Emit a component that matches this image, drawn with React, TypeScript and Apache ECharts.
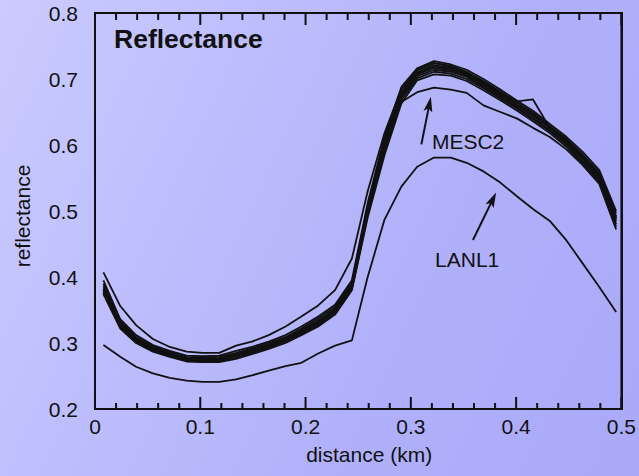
import { useEffect, useRef } from "react";
import * as echarts from "echarts";

// Sample positions along the transect (km)
const distance = [
  0.008, 0.024, 0.039, 0.055, 0.071, 0.087, 0.102, 0.118, 0.134, 0.149, 0.165,
  0.181, 0.196, 0.212, 0.228, 0.244, 0.259, 0.275, 0.291, 0.306, 0.322, 0.338,
  0.353, 0.369, 0.385, 0.401, 0.416, 0.432, 0.448, 0.463, 0.479, 0.495,
];

// Reflectance profiles, one per instrument
const lanl1 = [
  0.297, 0.279, 0.264, 0.254, 0.247, 0.243, 0.241, 0.241, 0.245, 0.251, 0.258,
  0.265, 0.27, 0.284, 0.296, 0.304, 0.4, 0.487, 0.537, 0.567, 0.581, 0.581,
  0.573, 0.56, 0.543, 0.522, 0.503, 0.485, 0.455, 0.421, 0.385, 0.347,
];
const mesc2 = [
  0.38, 0.33, 0.305, 0.29, 0.281, 0.276, 0.275, 0.276, 0.281, 0.288, 0.297,
  0.307, 0.319, 0.333, 0.351, 0.383, 0.5, 0.6, 0.665, 0.68, 0.687, 0.684,
  0.679, 0.66, 0.65, 0.64, 0.626, 0.612, 0.593, 0.57, 0.541, 0.472,
];
const siteA = [
  0.407, 0.356, 0.327, 0.306, 0.294, 0.287, 0.285, 0.285, 0.296, 0.302, 0.312,
  0.325, 0.34, 0.357, 0.38, 0.428, 0.53, 0.618, 0.685, 0.714, 0.724, 0.719,
  0.71, 0.695, 0.68, 0.664, 0.648, 0.628, 0.607, 0.583, 0.553, 0.49,
];
const siteB = [
  0.395, 0.336, 0.312, 0.297, 0.288, 0.281, 0.28, 0.281, 0.288, 0.294, 0.302,
  0.312, 0.325, 0.34, 0.358, 0.395, 0.512, 0.612, 0.688, 0.716, 0.727, 0.722,
  0.714, 0.7, 0.684, 0.667, 0.652, 0.632, 0.612, 0.59, 0.562, 0.5,
];
const siteC = [
  0.39, 0.333, 0.309, 0.295, 0.286, 0.279, 0.278, 0.279, 0.285, 0.292, 0.3,
  0.309, 0.322, 0.337, 0.355, 0.392, 0.507, 0.606, 0.684, 0.713, 0.724, 0.72,
  0.711, 0.697, 0.681, 0.664, 0.649, 0.629, 0.609, 0.586, 0.558, 0.496,
];
const siteD = [
  0.386, 0.33, 0.307, 0.293, 0.284, 0.277, 0.276, 0.277, 0.283, 0.29, 0.298,
  0.307, 0.32, 0.334, 0.352, 0.389, 0.503, 0.601, 0.68, 0.71, 0.721, 0.717,
  0.709, 0.694, 0.678, 0.661, 0.646, 0.627, 0.607, 0.583, 0.555, 0.492,
];
const siteE = [
  0.383, 0.328, 0.305, 0.292, 0.283, 0.276, 0.275, 0.276, 0.282, 0.289, 0.297,
  0.306, 0.318, 0.332, 0.35, 0.387, 0.5, 0.598, 0.677, 0.708, 0.719, 0.715,
  0.707, 0.692, 0.676, 0.659, 0.644, 0.626, 0.605, 0.581, 0.553, 0.489,
];
const siteF = [
  0.38, 0.327, 0.304, 0.291, 0.282, 0.275, 0.274, 0.275, 0.281, 0.288, 0.296,
  0.305, 0.317, 0.331, 0.349, 0.386, 0.498, 0.595, 0.675, 0.706, 0.717, 0.713,
  0.705, 0.69, 0.675, 0.666, 0.669, 0.626, 0.604, 0.58, 0.551, 0.487,
];
const siteG = [
  0.378, 0.325, 0.303, 0.29, 0.281, 0.274, 0.273, 0.274, 0.28, 0.287, 0.294,
  0.303, 0.316, 0.329, 0.347, 0.384, 0.496, 0.592, 0.672, 0.704, 0.714, 0.711,
  0.703, 0.688, 0.673, 0.657, 0.641, 0.623, 0.602, 0.578, 0.549, 0.484,
];
const siteH = [
  0.376, 0.324, 0.301, 0.288, 0.28, 0.273, 0.272, 0.272, 0.278, 0.285, 0.293,
  0.302, 0.314, 0.327, 0.345, 0.382, 0.493, 0.589, 0.668, 0.701, 0.711, 0.708,
  0.7, 0.686, 0.671, 0.655, 0.639, 0.621, 0.6, 0.575, 0.546, 0.48,
];
const siteI = [
  0.374, 0.322, 0.3, 0.287, 0.279, 0.272, 0.271, 0.271, 0.276, 0.283, 0.291,
  0.3, 0.312, 0.325, 0.343, 0.38, 0.49, 0.585, 0.663, 0.698, 0.707, 0.705,
  0.697, 0.683, 0.668, 0.652, 0.636, 0.618, 0.597, 0.572, 0.543, 0.476,
];

const profiles = [siteA, siteB, siteC, siteD, siteE, siteF, siteG, siteH, siteI, mesc2, lanl1];

// Axis tick values
const xMajorTicks = [0, 0.1, 0.2, 0.3, 0.4, 0.5];
const yMajorTicks = [0.2, 0.3, 0.4, 0.5, 0.6, 0.7, 0.8];
const MINOR_SPLIT = 5;

// Callouts: label, label anchor [x, y], arrow tail and tip (data units)
const callouts = [
  { text: "MESC2", at: [0.32, 0.606], tail: [0.31, 0.601], tip: [0.319, 0.673] },
  { text: "LANL1", at: [0.323, 0.427], tail: [0.359, 0.456], tip: [0.381, 0.528] },
];

const FONT = "'Liberation Sans', Arial, Helvetica, sans-serif";
const INK = "#111";

// All tick values (major and minor), flagged and sorted
const tickList = (majors: number[]) => {
  const out: { v: number; major: boolean }[] = majors.map((v) => ({ v, major: true }));
  for (let i = 0; i < majors.length - 1; i++) {
    const step = (majors[i + 1] - majors[i]) / MINOR_SPLIT;
    for (let k = 1; k < MINOR_SPLIT; k++) out.push({ v: majors[i] + step * k, major: false });
  }
  return out.sort((a, b) => a.v - b.v);
};

export default function App() {
  const ref = useRef<HTMLDivElement>(null);

  useEffect(() => {
    const chart = echarts.init(ref.current!, null, { renderer: "svg" });

    const axisLine = { show: true, onZero: false, lineStyle: { color: INK, width: 2 } };
    const xMin = xMajorTicks[0];
    const xMax = xMajorTicks[xMajorTicks.length - 1];
    const yMin = yMajorTicks[0];
    const yMax = yMajorTicks[yMajorTicks.length - 1];

    const xAxisFor = (position: "bottom" | "top", extra: any) => ({
      type: "value",
      position,
      min: xMin,
      max: xMax,
      interval: 0.1,
      axisLine,
      axisTick: { show: false },
      splitLine: { show: false },
      ...extra,
    });
    const yAxisFor = (position: "left" | "right", extra: any) => ({
      type: "value",
      position,
      min: yMin,
      max: yMax,
      interval: 0.1,
      axisLine,
      axisTick: { show: false },
      splitLine: { show: false },
      ...extra,
    });

    const profileSeries = profiles.map((vals) => ({
      type: "line",
      xAxisIndex: 0,
      yAxisIndex: 0,
      data: distance.map((d, i) => [d, vals[i]]),
      symbol: "none",
      silent: true,
      lineStyle: { color: INK, width: 1.8 },
    }));

    chart.setOption({
      animation: false,
      backgroundColor: "transparent",
      textStyle: { fontFamily: FONT },
      title: {
        text: "Reflectance",
        left: 109,
        top: 20,
        textStyle: { fontFamily: FONT, fontSize: 26.5, fontWeight: "bold", color: INK },
      },
      grid: { left: 95, right: 17, top: 13, bottom: 67 },
      xAxis: [
        xAxisFor("bottom", {
          name: "distance (km)",
          nameLocation: "middle",
          nameGap: 35,
          nameTextStyle: { fontFamily: FONT, fontSize: 21, color: INK, padding: [0, 0, 0, 22] },
          axisLabel: { fontFamily: FONT, fontSize: 21, color: INK, margin: 7 },
        }),
        xAxisFor("top", { axisLabel: { show: false } }),
      ],
      yAxis: [
        yAxisFor("left", {
          name: "reflectance",
          nameLocation: "middle",
          nameGap: 62,
          nameTextStyle: { fontFamily: FONT, fontSize: 21, color: INK, padding: [0, 10, 0, 0] },
          axisLabel: { fontFamily: FONT, fontSize: 21, color: INK, margin: 17 },
        }),
        yAxisFor("right", { axisLabel: { show: false } }),
      ],
      series: profileSeries,
    });

    const px = (p: number[]) =>
      chart.convertToPixel({ xAxisIndex: 0, yAxisIndex: 0 }, p) as number[];

    // Data units per pixel, used to size the frame ticks
    const [leftX, bottomY] = px([xMin, yMin]);
    const [rightX, topY] = px([xMax, yMax]);
    const kx = (xMax - xMin) / (rightX - leftX);
    const ky = (yMax - yMin) / (bottomY - topY);

    // Comb-shaped polylines along each side of the frame: x ticks point into
    // the plot, y ticks point outwards
    const comb = (pts: number[][]) => ({
      type: "line",
      xAxisIndex: 0,
      yAxisIndex: 0,
      data: pts,
      symbol: "none",
      silent: true,
      clip: false,
      z: 5,
      lineStyle: { color: INK, width: 2, join: "bevel", cap: "butt" },
    });
    const bottomComb: number[][] = [];
    const topComb: number[][] = [];
    tickList(xMajorTicks).forEach(({ v, major }) => {
      bottomComb.push([v, yMin], [v, yMin + (major ? 12 : 6) * ky], [v, yMin]);
      topComb.push([v, yMax], [v, yMax - (major ? 12 : 7) * ky], [v, yMax]);
    });
    const leftComb: number[][] = [];
    const rightComb: number[][] = [];
    tickList(yMajorTicks).forEach(({ v, major }) => {
      leftComb.push([xMin, v], [xMin - (major ? 12 : 7) * kx, v], [xMin, v]);
      rightComb.push([xMax, v], [xMax + (major ? 12 : 8) * kx, v], [xMax, v]);
    });

    const graphics: any[] = [];
    callouts.forEach((c) => {
      const [tx, ty] = px(c.tail);
      const [hx, hy] = px(c.tip);
      const dx = hx - tx;
      const dy = hy - ty;
      const len = Math.hypot(dx, dy);
      const ux = dx / len;
      const uy = dy / len;
      const headLen = 15;
      const halfW = 4.5;
      const bx = hx - ux * headLen;
      const by = hy - uy * headLen;
      const nx = bx + ux * 3;
      const ny = by + uy * 3;
      graphics.push({
        type: "line",
        shape: { x1: tx, y1: ty, x2: bx + ux * 4, y2: by + uy * 4 },
        style: { stroke: INK, lineWidth: 2 },
        silent: true,
      });
      graphics.push({
        type: "polygon",
        shape: {
          points: [
            [hx, hy],
            [bx - uy * halfW, by + ux * halfW],
            [nx, ny],
            [bx + uy * halfW, by - ux * halfW],
          ],
        },
        style: { fill: INK },
        silent: true,
      });
      const [lx, ly] = px(c.at);
      graphics.push({
        type: "text",
        x: lx,
        y: ly,
        style: {
          text: c.text,
          fontFamily: FONT,
          fontSize: 21,
          fill: INK,
          align: "left",
          verticalAlign: "middle",
        },
        silent: true,
      });
    });

    chart.setOption({
      series: [
        ...profileSeries,
        comb(bottomComb),
        comb(topComb),
        comb(leftComb),
        comb(rightComb),
      ],
      graphic: graphics,
    });

    return () => chart.dispose();
  }, []);

  return (
    <div
      ref={ref}
      style={{
        position: "fixed",
        left: 0,
        top: 0,
        width: 639,
        height: 476,
        background:
          "linear-gradient(115deg, #cbcbff 0%, #bcbcfd 35%, #b0b0fa 65%, #a9a9f8 100%)",
      }}
    />
  );
}
